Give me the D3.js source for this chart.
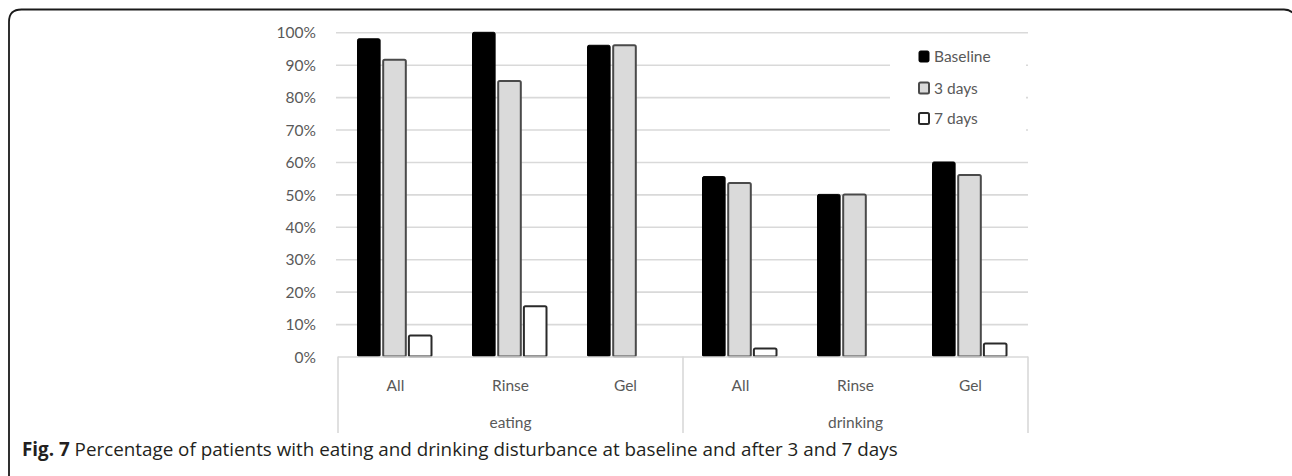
<!DOCTYPE html>
<html>
<head>
<meta charset="utf-8">
<script src="https://cdn.jsdelivr.net/npm/d3@7"></script>
<style>
  html, body { margin: 0; padding: 0; background: #fff; }
  svg { display: block; }
</style>
</head>
<body>
<svg id="chart" width="1292" height="476"></svg>
<script>
// ---- data ----
const groups = ["eating", "drinking"];
const subCategories = ["All", "Rinse", "Gel"];
const seriesNames = ["Baseline", "3 days", "7 days"];
const baselineValues = [98, 100, 96, 55.5, 50, 60];
const days3Values = [91.5, 85, 96, 53.5, 50, 56];
const days7Values = [6.5, 15.5, 0, 2.5, 0, 4];
const yTicks = [0, 10, 20, 30, 40, 50, 60, 70, 80, 90, 100];
const caption = { bold: "Fig. 7", rest: " Percentage of patients with eating and drinking disturbance at baseline and after 3 and 7 days" };

// ---- layout ----
const svg = d3.select("#chart");
const plot = { left: 338, right: 1028, top: 32.3, bottom: 356.5 };
const chartFont = "Lato, 'Open Sans', sans-serif";
const textGray = "#595959";

const cats = [];
groups.forEach(g => subCategories.forEach(s => cats.push({ group: g, sub: s, key: g + "|" + s })));
const seriesValues = [baselineValues, days3Values, days7Values];

const x0 = d3.scaleBand().domain(cats.map(c => c.key)).range([plot.left, plot.right]).padding(0);
const x1 = d3.scaleBand().domain(seriesNames).range([19.5, 19.5 + 74]).paddingInner(0.12);
const y = d3.scaleLinear().domain([0, 100]).range([plot.bottom, plot.top]);

const styles = {
  "Baseline": { fill: "#000000", stroke: "#000000" },
  "3 days": { fill: "#dadada", stroke: "#4a4a4a" },
  "7 days": { fill: "#ffffff", stroke: "#2a2a2a" }
};

// frame
svg.append("path")
  .attr("d", "M9,476 L9,22 Q9,9.5 21.5,9.5 L1284,9.5 Q1290,9.5 1294,14")
  .attr("fill", "none").attr("stroke", "#1a1a1a").attr("stroke-width", 1.8);

// gridlines
const yAxis = d3.axisLeft(y).tickValues(yTicks).tickSize(-(plot.right - plot.left)).tickFormat(d => d + "%");
const gAxis = svg.append("g").attr("transform", `translate(${plot.left},0)`).call(yAxis);
gAxis.select(".domain").remove();
gAxis.selectAll(".tick line").attr("stroke", "#d9d9d9").attr("stroke-width", 1.6)
  .attr("x1", -2);
gAxis.selectAll(".tick text")
  .attr("x", -22).attr("dy", "0.62em").attr("y", -4)
  .attr("fill", textGray).style("font-family", chartFont).style("font-size", "15.5px");
gAxis.selectAll(".tick").filter(d => d === 0).select("line").remove();

// legend background (covers gridlines)
svg.append("rect").attr("x", 890).attr("y", 40).attr("width", 136).attr("height", 98).attr("fill", "#fff");

// bars
const barG = svg.append("g");
seriesNames.forEach((s, si) => {
  const data = cats.map((c, i) => ({ cat: c, v: seriesValues[si][i] })).filter(d => d.v > 0);
  barG.selectAll(null).data(data).enter().append("rect")
    .attr("x", d => x0(d.cat.key) + x1(s))
    .attr("y", d => y(d.v))
    .attr("width", x1.bandwidth())
    .attr("height", d => y(0) - y(d.v))
    .attr("fill", styles[s].fill)
    .attr("stroke", styles[s].stroke)
    .attr("stroke-width", s === "Baseline" ? 1 : 2)
    .attr("rx", 1.5);
});

// category axis box
const axisG = svg.append("g");
const boxBottom = 433;
axisG.append("line").attr("x1", plot.left).attr("x2", plot.right).attr("y1", plot.bottom + 0.5).attr("y2", plot.bottom + 0.5)
  .attr("stroke", "#d9d9d9").attr("stroke-width", 1.6);
const boundaries = [plot.left, x0(groups[1] + "|" + subCategories[0]), plot.right];
boundaries.forEach(bx => {
  axisG.append("line").attr("x1", bx).attr("x2", bx).attr("y1", plot.bottom).attr("y2", boxBottom)
    .attr("stroke", "#d9d9d9").attr("stroke-width", 1.6);
});
axisG.selectAll(null).data(cats).enter().append("text")
  .attr("x", d => x0(d.key) + x0.bandwidth() / 2)
  .attr("y", 390.5)
  .attr("text-anchor", "middle")
  .attr("fill", textGray).style("font-family", chartFont).style("font-size", "15.5px")
  .text(d => d.sub);
axisG.selectAll(null).data(groups).enter().append("text")
  .attr("x", g => {
    const ks = subCategories.map(s => g + "|" + s);
    return (x0(ks[0]) + x0(ks[ks.length - 1]) + x0.bandwidth()) / 2;
  })
  .attr("y", 428)
  .attr("text-anchor", "middle")
  .attr("fill", textGray).style("font-family", chartFont).style("font-size", "15.5px")
  .text(g => g);

// legend
const legendRows = [56.5, 88, 118.5];
const legG = svg.append("g");
seriesNames.forEach((s, i) => {
  legG.append("rect").attr("x", 919).attr("y", legendRows[i] - 5.5).attr("width", 10).attr("height", 11)
    .attr("fill", styles[s].fill).attr("stroke", styles[s].stroke).attr("stroke-width", s === "Baseline" ? 1 : 2).attr("rx", 1.5);
  legG.append("text").attr("x", 934).attr("y", legendRows[i] + 5.5)
    .attr("fill", textGray).style("font-family", chartFont).style("font-size", "15.5px")
    .text(s);
});

// caption
const capText = svg.append("text").attr("x", 22).attr("y", 456)
  .attr("fill", "#231f20").style("font-family", "'Open Sans', 'Noto Sans', sans-serif").style("font-size", "16px");
capText.append("tspan").style("font-weight", "bold").text(caption.bold);
capText.append("tspan").text(caption.rest);
const targetW = 876;
const w = capText.node().getComputedTextLength();
capText.style("font-size", (16 * targetW / w).toFixed(2) + "px");
</script>
</body>
</html>
